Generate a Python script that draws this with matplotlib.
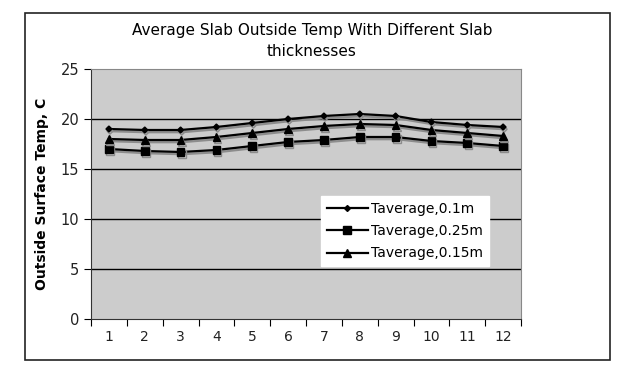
import matplotlib
matplotlib.use("Agg")
import matplotlib.pyplot as plt
import matplotlib.patheffects as pe
from matplotlib.patches import Rectangle

# values
months = list(range(1, 13))
t_01 = [19.0, 18.9, 18.9, 19.2, 19.6, 20.0, 20.3, 20.5, 20.3, 19.7, 19.4, 19.2]
t_025 = [17.0, 16.8, 16.7, 16.9, 17.3, 17.7, 17.9, 18.2, 18.2, 17.8, 17.6, 17.3]
t_015 = [18.0, 17.9, 17.9, 18.2, 18.6, 19.0, 19.3, 19.5, 19.4, 18.9, 18.6, 18.3]
labels = ["Taverage,0.1m", "Taverage,0.25m", "Taverage,0.15m"]

plt.rcParams['font.family'] = ['DejaVu Sans']

fig = plt.figure(figsize=(6.23, 3.75), dpi=100)
ax = fig.add_axes([91 / 623, 1 - 319 / 375, 430 / 623, 250 / 375])
ax.set_facecolor('#cccccc')

# outer chart border
fig.patches.append(Rectangle((25 / 623, 1 - 360 / 375), 585 / 623, 347 / 375,
                             transform=fig.transFigure, fill=False,
                             edgecolor='#222222', lw=1.2))

shadow = [pe.SimpleLineShadow(offset=(0.8, -1.6), shadow_color='#8c8c8c', alpha=1),
          pe.Normal()]

ax.plot(months, t_01, color='black', lw=1.6, marker='D', ms=3,
        label=labels[0], path_effects=shadow, zorder=4)
ax.plot(months, t_025, color='black', lw=1.6, marker='s', ms=5.5,
        label=labels[1], path_effects=shadow, zorder=4)
ax.plot(months, t_015, color='black', lw=1.6, marker='^', ms=5.5,
        label=labels[2], path_effects=shadow, zorder=4)

ax.set_xlim(0.5, 12.5)
ax.set_ylim(0, 25)
ax.set_yticks(range(0, 26, 5))
for y in range(5, 25, 5):
    ax.axhline(y, color='black', lw=1, zorder=1)

ax.set_xticks([m + 0.5 for m in range(0, 13)])
ax.set_xticklabels([])
ax.set_xticks(months, minor=True)
ax.set_xticklabels([str(m) for m in months], minor=True)
ax.tick_params(axis='x', which='minor', length=0, pad=8, labelsize=10, colors='#222222')
ax.tick_params(axis='x', which='major', length=5, direction='out')
ax.tick_params(axis='y', length=5, direction='out', labelsize=10.5, labelcolor='#222222')

for s in ['top', 'right']:
    ax.spines[s].set_color('#888888')
ax.spines['left'].set_color('#333333')
ax.spines['bottom'].set_color('#333333')

ax.set_ylabel('Outside Surface Temp, C', fontsize=10, fontweight='bold', labelpad=8)

fig.text(312 / 623, 1 - 31 / 375, 'Average Slab Outside Temp With Different Slab',
         ha='center', va='center', fontsize=11)
fig.text(312 / 623, 1 - 52 / 375, 'thicknesses', ha='center', va='center', fontsize=11)

leg = ax.legend(loc='lower left', bbox_to_anchor=(230 / 430, (319 - 266) / 250),
                frameon=True, fancybox=False, fontsize=10, handlelength=3,
                borderaxespad=0, labelspacing=0.6, handletextpad=0.2)
leg.get_frame().set_facecolor('white')
leg.get_frame().set_edgecolor('white')
leg.get_frame().set_alpha(1)
for ln in leg.get_lines():
    ln.set_path_effects([])

fig.savefig('out.png', dpi=100)
